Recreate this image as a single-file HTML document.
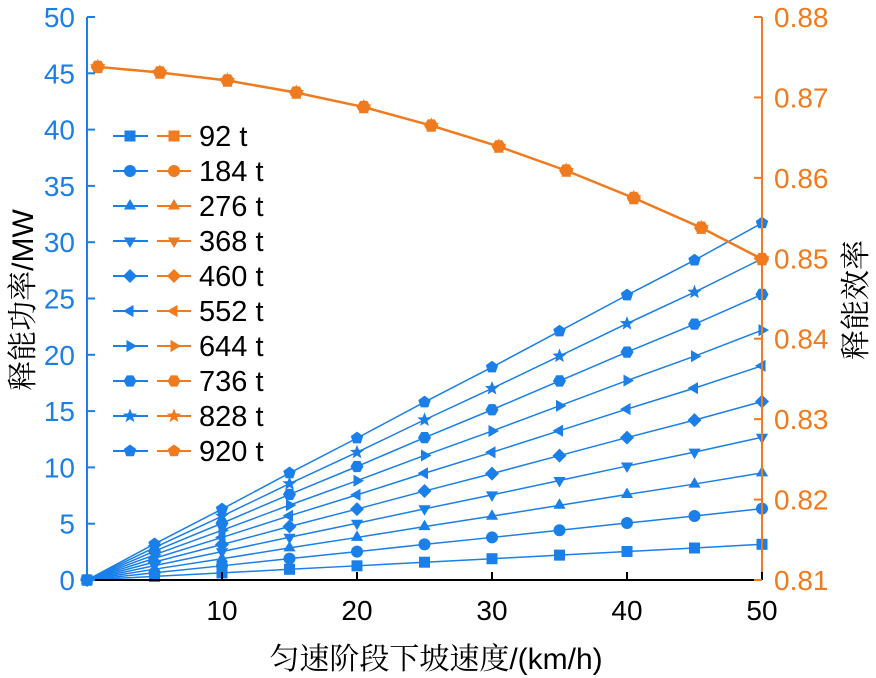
<!DOCTYPE html>
<html><head><meta charset="utf-8"><style>
body{margin:0;background:#fff;}
svg{display:block;font-family:"Liberation Sans","Noto Sans CJK SC",sans-serif;}
</style></head><body>
<svg id="c" width="876" height="675"></svg>
<script>
const speeds=[0,5,10,15,20,25,30,35,40,45,50];
const masses=["92 t","184 t","276 t","368 t","460 t","552 t","644 t","736 t","828 t","920 t"];
const p92=[0,0.32,0.63,0.95,1.26,1.58,1.89,2.21,2.53,2.84,3.17];
const p184=[0,0.64,1.26,1.9,2.52,3.16,3.78,4.42,5.06,5.68,6.34];
const p276=[0,0.96,1.89,2.85,3.78,4.74,5.67,6.63,7.59,8.52,9.51];
const p368=[0,1.28,2.52,3.8,5.04,6.32,7.56,8.84,10.12,11.36,12.68];
const p460=[0,1.6,3.15,4.75,6.3,7.9,9.45,11.05,12.65,14.2,15.85];
const p552=[0,1.92,3.78,5.7,7.56,9.48,11.34,13.26,15.18,17.04,19.02];
const p644=[0,2.24,4.41,6.65,8.82,11.06,13.23,15.47,17.71,19.88,22.19];
const p736=[0,2.56,5.04,7.6,10.08,12.64,15.12,17.68,20.24,22.72,25.36];
const p828=[0,2.88,5.67,8.55,11.34,14.22,17.01,19.89,22.77,25.56,28.53];
const p920=[0,3.2,6.3,9.5,12.6,15.8,18.9,22.1,25.3,28.4,31.7];
const powerSeries=[p92,p184,p276,p368,p460,p552,p644,p736,p828,p920];
const effSpeeds=[0.8,5.4,10.4,15.5,20.5,25.5,30.5,35.5,40.5,45.5,50];
const effValues=[0.8738,0.8731,0.8721,0.8706,0.8688,0.8665,0.8639,0.8609,0.8575,0.8538,0.8499];
const xTicks=[10,20,30,40,50];
const yTicks=[0,5,10,15,20,25,30,35,40,45,50];
const y2Ticks=[0.81,0.82,0.83,0.84,0.85,0.86,0.87,0.88];
const shapes=["square","circle","up","down","diamond","left","right","hexagon","star","pentagon"];

const BLUE="#1a7fe8",ORANGE="#f07a1e";
const X0=87,X1=762,YB=580,YT=17;
const sx=v=>X0+(v-0)/(50-0)*(X1-X0);
const sy=v=>YB-(v-0)/(50-0)*(YB-YT);
const sy2=v=>YB-(v-0.81)/(0.88-0.81)*(YB-YT);
const svg=document.getElementById('c');
const NS="http://www.w3.org/2000/svg";
function mk(tag,attrs,parent){const e=document.createElementNS(NS,tag);for(const k in attrs)e.setAttribute(k,attrs[k]);(parent||svg).appendChild(e);return e;}
function poly(n,r,rot,cx,cy){let p=[];for(let i=0;i<n;i++){const a=rot+i*2*Math.PI/n;p.push((cx+r*Math.cos(a)).toFixed(1)+","+(cy+r*Math.sin(a)).toFixed(1));}return p.join(" ");}
function marker(shape,cx,cy,color,g,sc){
  sc=sc||1;let e;
  if(shape==="square")e=mk('rect',{x:cx-5.5*sc,y:cy-5.5*sc,width:11*sc,height:11*sc},g);
  else if(shape==="circle")e=mk('circle',{cx:cx,cy:cy,r:6*sc},g);
  else if(shape==="up")e=mk('polygon',{points:poly(3,7*sc,-Math.PI/2,cx,cy)},g);
  else if(shape==="down")e=mk('polygon',{points:poly(3,7*sc,Math.PI/2,cx,cy)},g);
  else if(shape==="left")e=mk('polygon',{points:poly(3,7*sc,Math.PI,cx,cy)},g);
  else if(shape==="right")e=mk('polygon',{points:poly(3,7*sc,0,cx,cy)},g);
  else if(shape==="diamond")e=mk('polygon',{points:poly(4,7*sc,0,cx,cy)},g);
  else if(shape==="hexagon")e=mk('polygon',{points:poly(6,6.5*sc,0,cx,cy)},g);
  else if(shape==="pentagon")e=mk('polygon',{points:poly(5,6.5*sc,-Math.PI/2,cx,cy)},g);
  else {let p=[];for(let i=0;i<10;i++){const a=-Math.PI/2+i*Math.PI/5,rr=(i%2?3.2:7.5)*sc;p.push((cx+rr*Math.cos(a)).toFixed(1)+","+(cy+rr*Math.sin(a)).toFixed(1));}e=mk('polygon',{points:p.join(" ")},g);}
  e.setAttribute('fill',color);
  
  
  return e;
}
powerSeries.forEach((s,i)=>{
  const g=mk('g',{});
  
  
  const pts=s.map((v,j)=>sx(speeds[j])+","+sy(v)).join(" ");
  mk('polyline',{points:pts,fill:'none',stroke:BLUE,'stroke-width':1.5},g);
  s.forEach((v,j)=>marker(shapes[i],sx(speeds[j]),sy(v),BLUE,g));
});
const ge=mk('g',{});


mk('polyline',{points:effValues.map((v,j)=>sx(effSpeeds[j])+","+sy2(v)).join(" "),fill:'none',stroke:ORANGE,'stroke-width':2.5},ge);
effValues.forEach((v,j)=>marker("star",sx(effSpeeds[j]),sy2(v),ORANGE,ge,1.1));
effValues.forEach((v,j)=>marker("hexagon",sx(effSpeeds[j]),sy2(v),ORANGE,ge,1.1));
const ax=mk('g',{});


mk('line',{x1:X0,y1:YB,x2:X1,y2:YB,stroke:'#000','stroke-width':2},ax);
mk('line',{x1:X0,y1:YB,x2:X0,y2:YT,stroke:BLUE,'stroke-width':2},ax);
mk('line',{x1:X1,y1:YB,x2:X1,y2:YT,stroke:ORANGE,'stroke-width':2},ax);
xTicks.forEach(v=>{
  mk('line',{x1:sx(v),y1:YB,x2:sx(v),y2:YB-8,stroke:'#000','stroke-width':2},ax);
  const t=mk('text',{x:sx(v),y:YB+40,'font-size':28,'text-anchor':'middle',fill:'#000'},ax);t.textContent=v;
  
});
yTicks.forEach(v=>{
  mk('line',{x1:X0,y1:sy(v),x2:X0+8,y2:sy(v),stroke:BLUE,'stroke-width':2},ax);
  const t=mk('text',{x:X0-12,y:sy(v)+10,'font-size':28,'text-anchor':'end',fill:BLUE},ax);t.textContent=v;
  
});
y2Ticks.forEach(v=>{
  mk('line',{x1:X1,y1:sy2(v),x2:X1-8,y2:sy2(v),stroke:ORANGE,'stroke-width':2},ax);
  const t=mk('text',{x:X1+12,y:sy2(v)+10,'font-size':28,'text-anchor':'start',fill:ORANGE},ax);t.textContent=v.toFixed(2);
  
});
const lg=mk('g',{});


masses.forEach((m,i)=>{
  const y=136+i*35;
  const e=mk('g',{},lg);
  
  
  mk('line',{x1:113,y1:y,x2:148,y2:y,stroke:BLUE,'stroke-width':2},e);
  marker(shapes[i],130,y,BLUE,e);
  mk('line',{x1:157,y1:y,x2:191,y2:y,stroke:ORANGE,'stroke-width':2},e);
  marker(shapes[i],174,y,ORANGE,e);
  const t=mk('text',{x:199,y:y+10,'font-size':29,fill:'#000'},e);t.textContent=m;
});
</script>
<div style="position:absolute;left:0;top:0;width:876px;height:675px;pointer-events:none">
<div style="position:absolute;left:0;width:876px;top:634px;text-align:center;font:30px 'Liberation Sans','Noto Serif CJK SC',serif;color:#000"><span style="position:relative;left:-2px">匀速阶段下坡速度/(km/h)</span></div>
<div style="position:absolute;left:20px;top:300px;transform:translate(-50%,-50%) rotate(-90deg);white-space:nowrap;font:30px 'Liberation Sans','Noto Serif CJK SC',serif;color:#000">释能功率/MW</div>
<div style="position:absolute;left:853px;top:300px;transform:translate(-50%,-50%) rotate(-90deg);white-space:nowrap;font:30px 'Noto Serif CJK SC',serif;color:#000">释能效率</div>
</div>
</body></html>
